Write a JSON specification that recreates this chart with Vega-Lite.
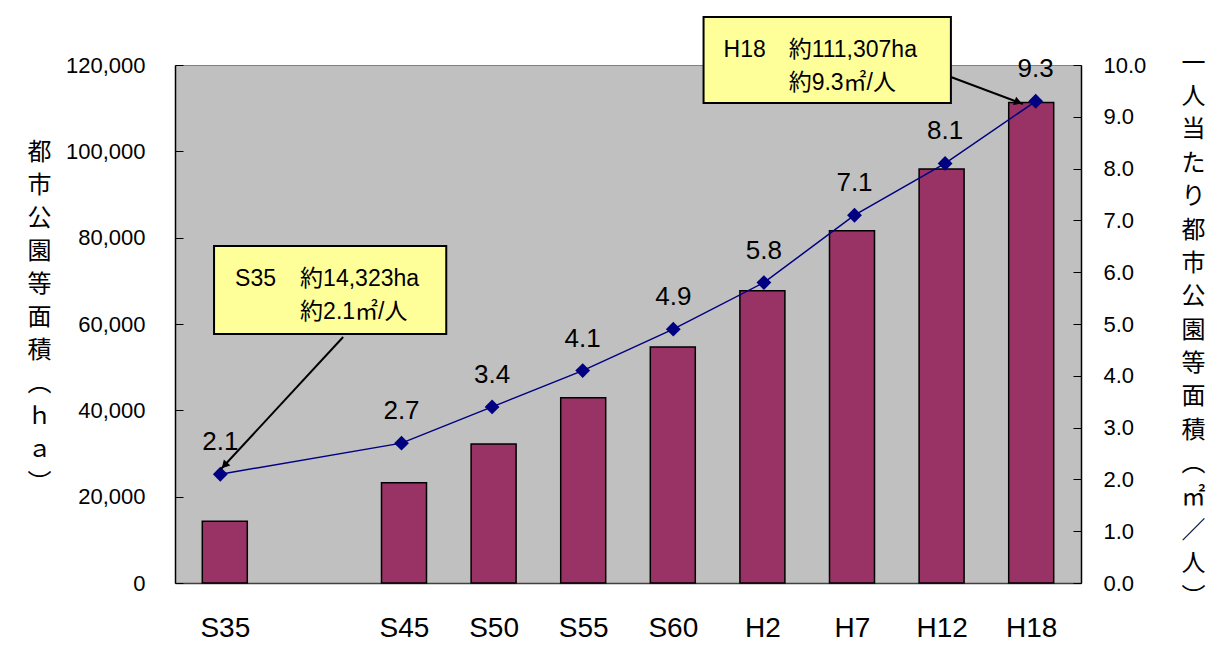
{
  "$schema": "https://vega.github.io/schema/vega-lite/v6.json",
  "autosize": "none",
  "width": 906,
  "height": 518,
  "padding": {"left": 175, "top": 65, "right": 148, "bottom": 83},
  "background": "white",
  "config": {
    "view": {"fill": "#C0C0C0", "stroke": "#808080", "strokeWidth": 1},
    "axis": {"grid": false, "labelColor": "black", "titleColor": "black", "domainColor": "black", "tickColor": "black"}
  },
  "datasets": {
    "parks": [
      {"i": 0, "period": "S35", "area": 14323, "per": 2.1},
      {"i": 2, "period": "S45", "area": 23200, "per": 2.7},
      {"i": 3, "period": "S50", "area": 32200, "per": 3.4},
      {"i": 4, "period": "S55", "area": 42900, "per": 4.1},
      {"i": 5, "period": "S60", "area": 54700, "per": 4.9},
      {"i": 6, "period": "H2", "area": 67700, "per": 5.8},
      {"i": 7, "period": "H7", "area": 81600, "per": 7.1},
      {"i": 8, "period": "H12", "area": 95900, "per": 8.1},
      {"i": 9, "period": "H18", "area": 111307, "per": 9.3}
    ],
    "callouts": [
      {"bx1": -0.069, "bx2": 2.494, "by1": 78070, "by2": 57683, "tagX": 0.163, "txtX": 0.881, "l1Y": 70425, "l2Y": 62780, "tag": "S35", "l1": "約14,323ha", "l2": "約2.1㎡/人", "ax1": 1.356, "ay1": 56988, "ax2": 0.008, "ay2": 26409, "hx": 0.046, "hy": 27266, "dir": 223},
      {"bx1": 5.334, "bx2": 8.064, "by1": 131120, "by2": 111197, "tagX": 5.555, "txtX": 6.273, "l1Y": 123475, "l2Y": 115830, "tag": "H18", "l1": "約111,307ha", "l2": "約9.3㎡/人", "ax1": 8.064, "ay1": 117220, "ax2": 8.859, "ay2": 110965, "hx": 8.807, "hy": 111383, "dir": 110.6}
    ]
  },
  "layer": [
    {
      "data": {"name": "parks"},
      "mark": {"type": "bar", "width": 45, "color": "#993366", "stroke": "black", "strokeWidth": 1.5},
      "encoding": {
        "x": {
          "field": "i", "type": "quantitative",
          "scale": {"domain": [-0.5, 9.5], "nice": false, "zero": false},
          "axis": {
            "orient": "bottom", "title": null, "values": [0, 2, 3, 4, 5, 6, 7, 8, 9],
            "labelExpr": "['S35','S40','S45','S50','S55','S60','H2','H7','H12','H18'][datum.value]",
            "ticks": false, "domainColor": "#404040", "domainWidth": 1.5,
            "labelFont": "Liberation Sans", "labelFontSize": 28, "labelPadding": 31
          }
        },
        "y": {
          "field": "area", "type": "quantitative",
          "scale": {"domain": [0, 120000], "nice": false},
          "axis": {
            "orient": "left", "values": [0, 20000, 40000, 60000, 80000, 100000, 120000], "format": ",.0f",
            "labelFont": "Liberation Sans", "labelFontSize": 22, "tickSize": -8, "labelPadding": 38, "domainWidth": 1.5,
            "title": ["都", "市", "公", "園", "等", "面", "積", "︵", "ｈ", "ａ", "︶"],
            "titleAngle": 0, "titleAlign": "center", "titleBaseline": "top",
            "titleX": -136, "titleY": 75, "titleLineHeight": 33.1,
            "titleFont": "Noto Sans CJK JP", "titleFontSize": 24, "titleFontWeight": "normal"
          }
        }
      }
    },
    {
      "data": {"name": "parks"},
      "encoding": {
        "x": {"field": "i", "type": "quantitative", "scale": {"domain": [-0.5, 9.5], "nice": false, "zero": false}, "axis": null},
        "y": {
          "field": "per", "type": "quantitative",
          "scale": {"domain": [0, 10], "nice": false},
          "axis": {
            "orient": "right", "values": [0, 1, 2, 3, 4, 5, 6, 7, 8, 9, 10], "format": ".1f",
            "labelFont": "Liberation Sans", "labelFontSize": 22, "tickSize": -8, "labelPadding": 30, "domainWidth": 1.5,
            "title": ["一", "人", "当", "た", "り", "都", "市", "公", "園", "等", "面", "積", "︵", "㎡", "／", "人", "︶"],
            "titleAngle": 0, "titleAlign": "center", "titleBaseline": "top",
            "titleX": 112, "titleY": -14, "titleLineHeight": 33.4,
            "titleFont": "Noto Sans CJK JP", "titleFontSize": 24, "titleFontWeight": "normal"
          }
        }
      },
      "layer": [
        {"mark": {"type": "line", "color": "#000080", "strokeWidth": 1.5}},
        {"mark": {"type": "point", "shape": "diamond", "filled": true, "color": "#000080", "size": 220, "opacity": 1}},
        {
          "mark": {"type": "text", "font": "Liberation Sans", "fontSize": 26, "color": "black", "baseline": "alphabetic", "dy": -24},
          "encoding": {"text": {"field": "per", "type": "quantitative", "format": ".1f"}}
        }
      ]
    },
    {
      "data": {"name": "callouts"},
      "encoding": {
        "x": {"field": "ax1", "type": "quantitative", "scale": {"domain": [-0.5, 9.5], "nice": false, "zero": false}, "axis": null},
        "y": {"field": "ay1", "type": "quantitative", "scale": {"domain": [0, 120000], "nice": false}, "axis": null}
      },
      "layer": [
        {
          "mark": {"type": "rule", "color": "black", "strokeWidth": 2},
          "encoding": {
            "x2": {"field": "ax2"},
            "y2": {"field": "ay2"}
          }
        },
        {
          "mark": {"type": "point", "shape": "triangle-up", "filled": true, "color": "black", "size": 80, "opacity": 1},
          "encoding": {
            "x": {"field": "hx", "type": "quantitative"},
            "y": {"field": "hy", "type": "quantitative"},
            "angle": {"field": "dir", "type": "quantitative", "scale": null}
          }
        },
        {
          "mark": {"type": "rect", "fill": "#FFFF99", "stroke": "black", "strokeWidth": 2},
          "encoding": {
            "x": {"field": "bx1", "type": "quantitative"},
            "x2": {"field": "bx2"},
            "y": {"field": "by1", "type": "quantitative"},
            "y2": {"field": "by2"}
          }
        },
        {
          "mark": {"type": "text", "align": "left", "baseline": "middle", "font": "Liberation Sans, Noto Sans CJK JP", "fontSize": 23, "color": "black"},
          "encoding": {
            "x": {"field": "tagX", "type": "quantitative"},
            "y": {"field": "l1Y", "type": "quantitative"},
            "text": {"field": "tag"}
          }
        },
        {
          "mark": {"type": "text", "align": "left", "baseline": "middle", "font": "Liberation Sans, Noto Sans CJK JP", "fontSize": 23, "color": "black"},
          "encoding": {
            "x": {"field": "txtX", "type": "quantitative"},
            "y": {"field": "l1Y", "type": "quantitative"},
            "text": {"field": "l1"}
          }
        },
        {
          "mark": {"type": "text", "align": "left", "baseline": "middle", "font": "Liberation Sans, Noto Sans CJK JP", "fontSize": 23, "color": "black"},
          "encoding": {
            "x": {"field": "txtX", "type": "quantitative"},
            "y": {"field": "l2Y", "type": "quantitative"},
            "text": {"field": "l2"}
          }
        }
      ]
    }
  ],
  "resolve": {"scale": {"x": "independent", "y": "independent"}}
}
